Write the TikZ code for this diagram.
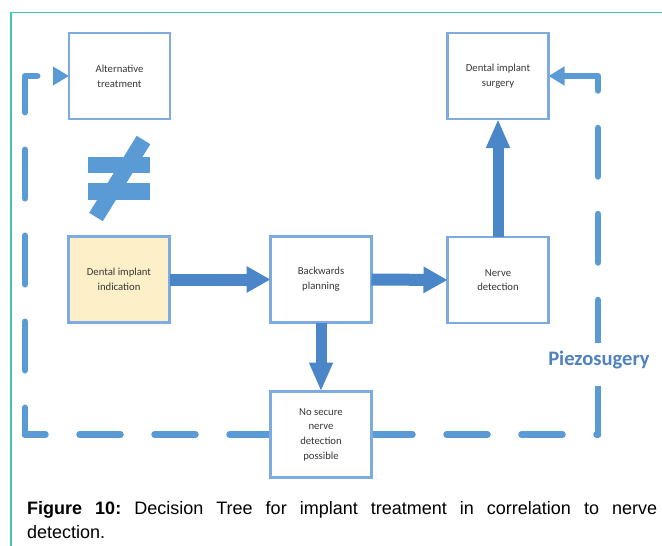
\documentclass[tikz,border=0pt]{standalone}
\usepackage{fontspec}
\setmainfont{Liberation Sans}
\newfontfamily\boxfont{Carlito}
\usetikzlibrary{arrows.meta,backgrounds}
\definecolor{teal1}{RGB}{70,196,178}
\definecolor{dashblue}{RGB}{91,155,213}
\definecolor{arrowblue}{RGB}{74,134,200}
\definecolor{boxline}{RGB}{125,170,225}
\definecolor{boxfill}{RGB}{253,240,200}
\definecolor{pzblue}{RGB}{80,130,190}
\definecolor{boxtext}{RGB}{55,55,55}
\begin{document}
\begin{tikzpicture}[x=1pt,y=-1pt,
  box/.style={draw=boxline, line width=2.5pt, fill=white, minimum width=101pt,
    minimum height=86pt, inner sep=2pt, outer sep=0pt, align=center,
    font=\boxfont\fontsize{10.7}{14.7}\selectfont, text=boxtext},
  blockh/.style={draw=arrowblue, line width=12pt, -{Triangle[length=24pt,width=25pt]}},
  blockv/.style={draw=arrowblue, line width=11pt, -{Triangle[length=29pt,width=22pt]}},
  dashline/.style={draw=dashblue, line width=6.5pt, line cap=round, line join=round},
  dashtip/.style={-{Triangle[length=16pt,width=18pt]}},
  hdash/.style={dash pattern=on 41pt off 34pt},
  vdash/.style={dash pattern=on 48.5pt off 37.5pt},
]
\useasboundingbox (0,0) rectangle (662,546);
% frame
\draw[teal1, line width=1.2pt] (11,546) -- (11,12.7) -- (662,12.7);

% nodes
\node[box] (alt) at (119.5,76) {Alternative\\treatment};
\node[box] (surg) at (498,76) {Dental implant\\surgery};
\node[box, fill=boxfill] (ind) at (119,279.5) {Dental implant\\indication};
\node[box] (back) at (321,279.5) {Backwards\\planning};
\node[box] (nerve) at (498,280) {Nerve\\detection};
\node[box] (nosec) at (321,434.5) {No secure\\nerve\\detection\\possible};

\node[anchor=base, fill=white, inner sep=0pt, text height=22pt, text depth=21pt,
  font=\boxfont\bfseries\fontsize{20.6}{24}\selectfont, text=pzblue] (pz) at (599,365) {Piezosugery};

% dashed loop
\coordinate (lb) at (25,434.5);
\coordinate (lt) at (25,76);
\coordinate (rb) at (598,434.5);
\coordinate (rt) at (598,76);
\begin{scope}[on background layer]
\draw[dashline, hdash] (nosec.west) -- (lb);
\draw[dashline, vdash, dash phase=21.75pt, dashtip] (lb) -- (lt) -- (alt.west);
\draw[dashline, hdash] (nosec.east) -- (rb);
\draw[dashline, vdash, dashtip] (rb) -- (rt) -- (surg.east);
\end{scope}

% block arrows
\draw[blockh] (ind.east) -- (back.west);
\draw[blockh] (back.east) -- (nerve.west);
\draw[blockv] (nerve.north) -- (surg.south);
\draw[blockv] (back.south) -- (nosec.north);

% not-equal sign
\fill[dashblue] (88,157) rectangle (150,173);
\fill[dashblue] (88,183) rectangle (150,200);
\draw[dashblue, line width=16pt] (96,217) -- (143.5,140);

% caption
\node[anchor=north west, text width=630pt, align=justify, inner sep=0pt,
  font=\fontsize{18}{24}\selectfont\frenchspacing] (cap) at (27,501)
  {\textbf{Figure 10:} Decision Tree for implant treatment in correlation to nerve\linebreak detection.};
\end{tikzpicture}
\end{document}
